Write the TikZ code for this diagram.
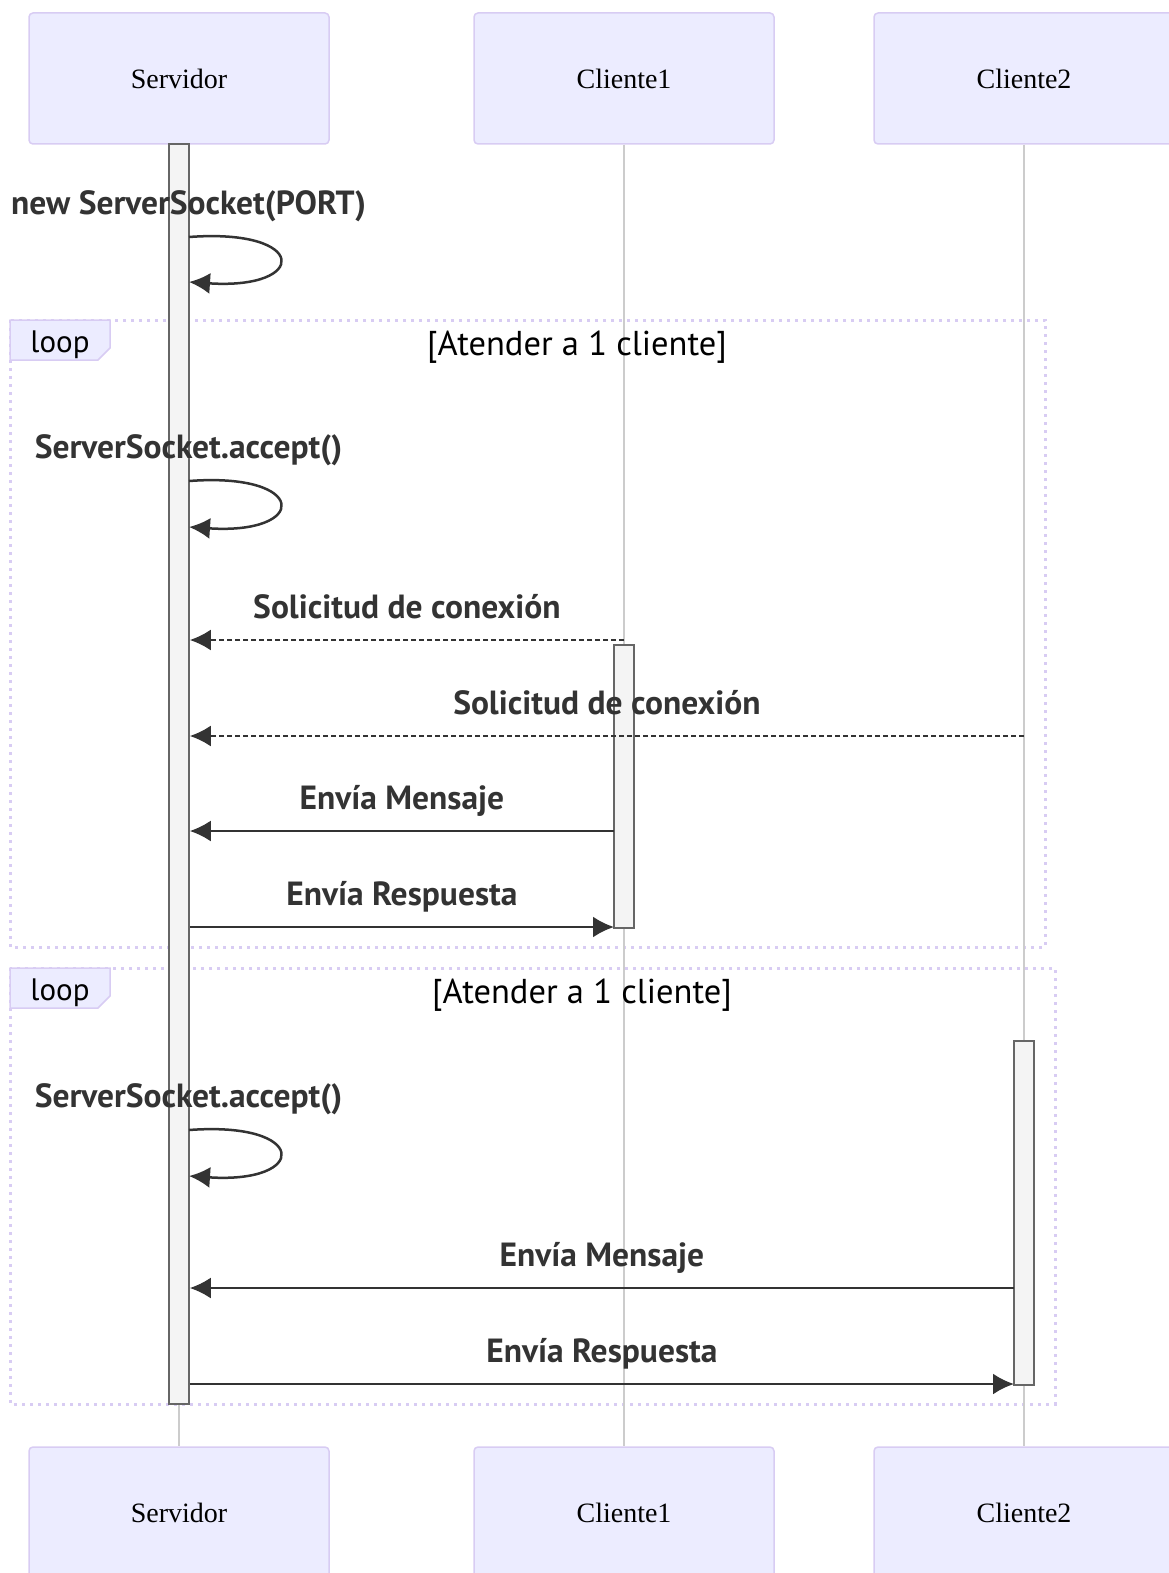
\documentclass[tikz,border=0pt]{standalone}
\usepackage{fontspec}
\setmainfont{Liberation Serif}
\newfontfamily\msgfont{PT Sans}
\usepackage{xcolor}
\definecolor{actor-fill}{HTML}{ECECFF}
\definecolor{actor-line}{HTML}{D8CCF3}
\definecolor{bar-fill}{HTML}{F4F4F4}
\definecolor{bar-line}{HTML}{666666}
\definecolor{msg-line}{HTML}{333333}
\definecolor{life-line}{HTML}{CCCCCC}
\usetikzlibrary{arrows.meta}
\tikzset{actor/.style = {draw=actor-line, fill=actor-fill, rounded corners=4pt, line width=1.5pt, minimum width=300pt, minimum height=131pt, font=\fontsize{28}{34}\selectfont}}
\tikzset{bar/.style = {draw=bar-line, fill=bar-fill, line width=1.5pt, minimum width=20pt, inner sep=0pt}}
\tikzset{life/.style = {draw=life-line, line width=1.2pt}}
\tikzset{frame/.style = {draw=actor-line, line width=3pt, dash pattern=on 3pt off 5pt}}
\tikzset{tab/.style = {draw=actor-line, fill=actor-fill, line width=1.5pt}}
\tikzset{ftext/.style = {font=\msgfont\fontsize{31}{37}\selectfont}}
\tikzset{ctext/.style = {font=\msgfont\fontsize{34.5}{40}\selectfont}}
\tikzset{mtext/.style = {font=\msgfont\bfseries\fontsize{33.5}{40}\selectfont, text=msg-line}}
\tikzset{lbl/.style = {mtext, text depth=8pt, midway, above=9pt}}
\tikzset{arr/.style = {draw=msg-line, line width=2.5pt, -{Latex[length=21pt, width=21pt]}}}
\tikzset{dreply/.style = {arr, dash pattern=on 5pt off 3pt}}

\begin{document}
\begin{tikzpicture}[x=1pt, y=-1pt]
\useasboundingbox (0,0) rectangle (1168,1573);

% loop frames
\draw[frame] (10,320) rectangle (1045,947);
\draw[frame] (10,968) rectangle (1055,1404);
\draw[tab] (10,320) -- (110,320) -- (110,348) -- (98,360) -- (10,360) -- cycle;
\draw[tab] (10,968) -- (110,968) -- (110,996) -- (98,1008) -- (10,1008) -- cycle;
\node[ftext] (loopA) at (60,345) {loop};
\node[ftext] (loopB) at (60,993) {loop};

% actors
\node[actor] (srvTop) at (179,78.5) {Servidor};
\node[actor] (cl1Top) at (624,78.5) {Cliente1};
\node[actor] (cl2Top) at (1024,78.5) {Cliente2};
\node[actor] (srvBot) at (179,1512.5) {Servidor};
\node[actor] (cl1Bot) at (624,1512.5) {Cliente1};
\node[actor] (cl2Bot) at (1024,1512.5) {Cliente2};

\draw[life] (srvTop) -- (srvBot);
\draw[life] (cl1Top) -- (cl1Bot);
\draw[life] (cl2Top) -- (cl2Bot);

\node[ctext] (condA) at (577,347) {[Atender a 1 cliente]};
\node[ctext] (condB) at (582,995) {[Atender a 1 cliente]};

% activations
\node[bar, minimum height=1260pt] (srvBar) at (179,774) {};
\node[bar, minimum height=283pt] (cl1Bar) at (624,786.5) {};
\node[bar, minimum height=344pt] (cl2Bar) at (1024,1213) {};

% self calls
\coordinate (s1a) at (189,237);
\coordinate (s1b) at (189,282);
\coordinate (s2a) at (189,481);
\coordinate (s2b) at (189,527);
\coordinate (s3a) at (189,1130);
\coordinate (s3b) at (189,1176);
\draw[arr] (s1a) .. controls +(120,-9) and +(120,8) .. (s1b);
\draw[arr] (s2a) .. controls +(120,-9) and +(120,8) .. (s2b);
\draw[arr] (s3a) .. controls +(120,-9) and +(120,8) .. (s3b);
\node[mtext] (t1) at (188.5,206) {new ServerSocket(PORT)};
\node[mtext] (t2) at (188.5,450) {ServerSocket.accept()};
\node[mtext] (t3) at (188.5,1099) {ServerSocket.accept()};

% messages
\coordinate (c1a) at (624,640);
\coordinate (c2a) at (1024,736);
\coordinate (c1m) at (614,831);
\coordinate (c1r) at (614,927);
\coordinate (c2m) at (1014,1288);
\coordinate (c2r) at (1014,1384);
\draw[dreply] (c1a) -- (srvBar.east |- c1a) node[lbl]{Solicitud de conexión};
\draw[dreply] (c2a) -- (srvBar.east |- c2a) node[lbl]{Solicitud de conexión};
\draw[arr] (c1m) -- (srvBar.east |- c1m) node[lbl]{Envía Mensaje};
\draw[arr] (srvBar.east |- c1r) -- (c1r) node[lbl]{Envía Respuesta};
\draw[arr] (c2m) -- (srvBar.east |- c2m) node[lbl]{Envía Mensaje};
\draw[arr] (srvBar.east |- c2r) -- (c2r) node[lbl]{Envía Respuesta};

\end{tikzpicture}
\end{document}
